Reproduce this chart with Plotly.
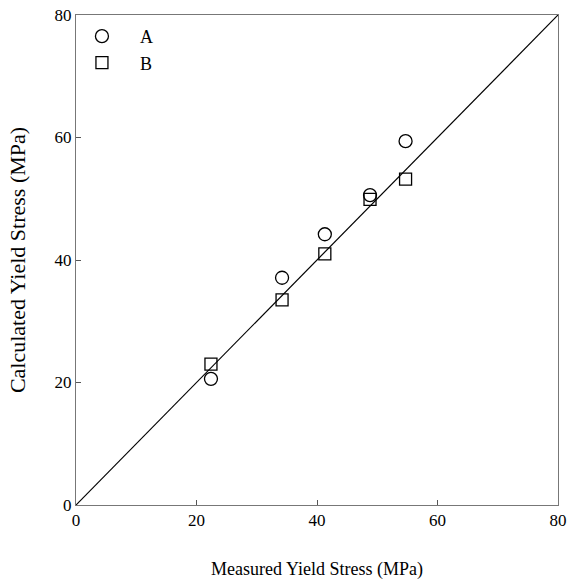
import plotly.graph_objects as go

# Data
measured = [22.4, 34.2, 41.3, 48.8, 54.7]
calc_A = [20.6, 37.1, 44.2, 50.6, 59.4]
calc_B = [23.0, 33.5, 41.0, 49.9, 53.2]
line_x = [0, 80]
line_y = [0, 80]
tick_vals = [0, 20, 40, 60, 80]

font_family = "Liberation Serif, Times New Roman, serif"

fig = go.Figure()
fig.add_trace(go.Scatter(x=line_x, y=line_y, mode="lines",
                         line=dict(color="black", width=1.2),
                         showlegend=False, hoverinfo="skip"))
fig.add_trace(go.Scatter(x=measured, y=calc_A, mode="markers", name="A",
                         marker=dict(symbol="circle-open", size=13,
                                     color="black", line=dict(width=1.3))))
fig.add_trace(go.Scatter(x=measured, y=calc_B, mode="markers", name="B",
                         marker=dict(symbol="square-open", size=12,
                                     color="black", line=dict(width=1.3))))

axis_common = dict(
    range=[0, 80], tickvals=tick_vals, showgrid=False, zeroline=False,
    showline=True, linecolor="#777777", linewidth=1, mirror=True,
    ticks="inside", ticklen=5, tickcolor="#555555", automargin=False,
    tickfont=dict(family=font_family, size=17, color="black"),
)

fig.update_layout(
    width=567, height=584,
    margin=dict(l=76, r=9, t=15, b=79),
    paper_bgcolor="white", plot_bgcolor="white",
    font=dict(family=font_family, color="black"),
    xaxis=dict(**axis_common,
               title=dict(text="Measured Yield Stress (MPa)",
                          font=dict(family=font_family, size=18), standoff=32)),
    yaxis=dict(**axis_common,
               title=dict(text="Calculated Yield Stress (MPa)",
                          font=dict(family=font_family, size=22), standoff=22)),
    legend=dict(x=-0.025, y=0.994, xanchor="left", yanchor="top",
                bgcolor="rgba(0,0,0,0)", itemwidth=66,
                font=dict(family=font_family, size=18), tracegroupgap=0),
    showlegend=True,
)

fig.write_html("out.html",
               config={"displayModeBar": False},
               post_script="document.body.style.margin='0';document.body.style.overflow='hidden';")
